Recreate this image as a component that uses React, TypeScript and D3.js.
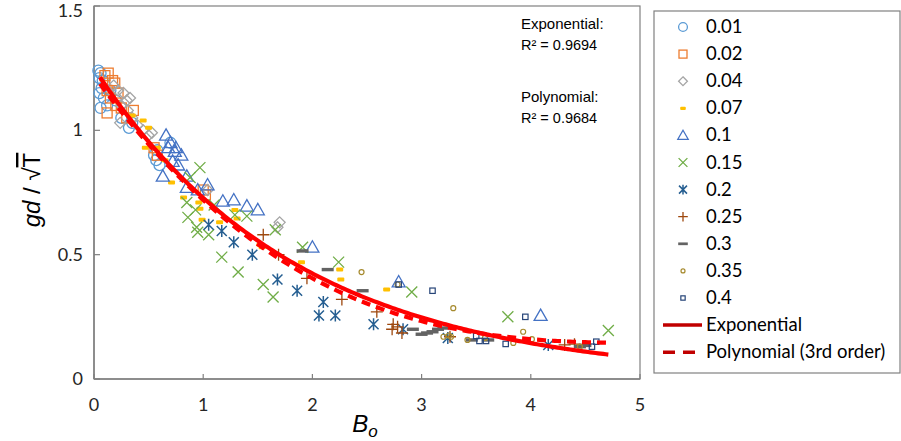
import React from "react";
import * as d3 from "d3";

type P = [number, number];

const seriesNames = ["0.01", "0.02", "0.04", "0.07", "0.1", "0.15", "0.2", "0.25", "0.3", "0.35", "0.4"];

const s001: P[] = [[0.04,1.24],[0.06,1.23],[0.05,1.21],[0.08,1.2],[0.07,1.17],[0.05,1.15],[0.09,1.13],[0.06,1.09],[0.12,1.1],[0.15,1.16],[0.25,1.05],[0.32,1.01],[0.35,1.03],[0.55,0.9],[0.57,0.88],[0.6,0.86],[0.58,0.92],[0.7,0.95],[0.2,1.12]];
const s002: P[] = [[0.1,1.22],[0.13,1.23],[0.17,1.2],[0.19,1.19],[0.12,1.16],[0.15,1.13],[0.22,1.15],[0.12,1.07],[0.25,1.09],[0.3,1.05],[0.36,1.08],[0.55,0.93],[0.58,0.9],[1.0,0.76],[1.02,0.74],[0.2,1.1]];
const s004: P[] = [[0.18,1.18],[0.22,1.16],[0.27,1.15],[0.3,1.12],[0.25,1.1],[0.31,1.08],[0.24,1.03],[0.35,1.05],[0.4,1.02],[0.45,1.0],[0.5,0.98],[0.53,0.99],[0.33,1.13],[1.04,0.76],[1.68,0.61],[1.7,0.63]];
const s007: P[] = [[0.45,1.04],[0.5,1.01],[0.47,0.93],[0.58,0.93],[0.65,0.88],[0.71,0.79],[0.82,0.73],[0.96,0.71],[0.97,0.685],[0.99,0.64],[1.15,0.63],[1.29,0.68],[1.31,0.645],[1.52,0.54],[1.54,0.53],[1.9,0.47],[2.25,0.44],[2.26,0.4],[2.68,0.36],[0.35,1.06]];
const s01: P[] = [[0.66,0.98],[0.7,0.95],[0.68,0.93],[0.75,0.93],[0.72,0.875],[0.74,0.915],[0.77,0.86],[0.63,0.815],[0.85,0.815],[0.85,0.77],[1.04,0.78],[1.18,0.715],[1.28,0.72],[1.4,0.695],[1.5,0.68],[2.0,0.53],[2.79,0.39],[4.09,0.255],[0.8,0.9],[0.95,0.76]];
const s015: P[] = [[0.97,0.85],[0.88,0.81],[0.85,0.71],[0.93,0.68],[0.86,0.65],[0.94,0.61],[0.95,0.59],[1.05,0.58],[1.4,0.655],[1.29,0.66],[1.66,0.6],[1.17,0.49],[1.32,0.43],[1.55,0.38],[1.64,0.33],[1.91,0.53],[2.24,0.47],[2.91,0.35],[3.79,0.25],[4.71,0.195],[1.1,0.7]];
const s02: P[] = [[1.17,0.595],[1.28,0.55],[1.45,0.5],[1.68,0.4],[1.86,0.355],[2.1,0.31],[2.06,0.255],[2.21,0.255],[2.56,0.22],[2.83,0.2],[3.24,0.165],[4.16,0.137],[1.05,0.62]];
const s025: P[] = [[1.55,0.58],[1.69,0.5],[1.95,0.405],[2.27,0.32],[2.59,0.27],[2.74,0.22],[2.73,0.2],[2.78,0.21],[2.82,0.185],[3.26,0.17],[4.31,0.137],[4.4,0.14]];
const s03: P[] = [[1.91,0.515],[2.14,0.44],[2.46,0.355],[2.92,0.2],[3.0,0.18],[3.05,0.185],[3.1,0.19],[3.15,0.2],[3.2,0.205],[3.46,0.157],[3.61,0.157],[4.45,0.13],[4.5,0.135]];
const s035: P[] = [[2.45,0.43],[2.78,0.38],[3.29,0.285],[3.2,0.17],[3.27,0.17],[3.42,0.157],[3.58,0.165],[3.93,0.19],[4.01,0.16],[3.84,0.145],[4.45,0.13],[3.25,0.175]];
const s04: P[] = [[2.79,0.38],[3.1,0.355],[3.5,0.173],[3.53,0.153],[3.59,0.153],[3.77,0.141],[3.95,0.25],[4.56,0.13],[4.6,0.15]];

const seriesData: P[][] = [s001, s002, s004, s007, s01, s015, s02, s025, s03, s035, s04];
const seriesColors = ["#5B9BD5", "#ED7D31", "#A5A5A5", "#FFC000", "#4472C4", "#70AD47", "#255E91", "#9E480E", "#636363", "#A68A2E", "#264478"];
const seriesShapes = ["circle", "square", "diamond", "ydash", "triangle", "x", "star", "plus", "gdash", "smallcircle", "smallsquare"];

const xTicks = [0, 1, 2, 3, 4, 5];
const yTicks = [0, 0.5, 1, 1.5];
const yTickLabels = ["0", "0.5", "1", "1.5"];

// trendlines
const expA = 1.25;
const expB = 0.54;
const polyCoef = [1.22, -0.6067, 0.11375, -0.00708];
const fitRange = [0.055, 4.71];

const W = 901, H = 441;
const x = d3.scaleLinear().domain([0, 5]).range([94, 640]);
const y = d3.scaleLinear().domain([0, 1.5]).range([379, 6]);

function Marker({ shape, color, cx, cy, s = 1 }: { shape: string; color: string; cx: number; cy: number; s?: number }) {
  const sw = 1.3;
  switch (shape) {
    case "circle":
      return <circle cx={cx} cy={cy} r={5.5 * s} fill="none" stroke={color} strokeWidth={sw} />;
    case "square":
      return <rect x={cx - 5 * s} y={cy - 5 * s} width={10 * s} height={10 * s} fill="none" stroke={color} strokeWidth={sw} />;
    case "diamond": {
      const r = 5.5 * s;
      return <path d={`M${cx},${cy - r}L${cx + r},${cy}L${cx},${cy + r}L${cx - r},${cy}Z`} fill="none" stroke={color} strokeWidth={sw} />;
    }
    case "ydash":
      return <rect x={cx - 3.5 * s} y={cy - 2 * s} width={7 * s} height={4 * s} rx={1} fill={color} stroke="none" />;
    case "triangle": {
      const r = 6.5 * s;
      return <path d={`M${cx},${cy - r}L${cx + r},${cy + r * 0.75}L${cx - r},${cy + r * 0.75}Z`} fill="none" stroke={color} strokeWidth={sw} />;
    }
    case "x": {
      const r = 5.5 * s;
      return <path d={`M${cx - r},${cy - r}L${cx + r},${cy + r}M${cx - r},${cy + r}L${cx + r},${cy - r}`} stroke={color} strokeWidth={sw} />;
    }
    case "star": {
      const r = 5 * s;
      return <path d={`M${cx - r},${cy - r}L${cx + r},${cy + r}M${cx - r},${cy + r}L${cx + r},${cy - r}M${cx},${cy - r * 1.2}L${cx},${cy + r * 1.2}`} stroke={color} strokeWidth={1.5} />;
    }
    case "plus": {
      const r = 6 * s;
      return <path d={`M${cx - r},${cy}L${cx + r},${cy}M${cx},${cy - r}L${cx},${cy + r}`} stroke={color} strokeWidth={sw} />;
    }
    case "gdash":
      return <rect x={cx - 6 * s} y={cy - 1.7 * s} width={12 * s} height={3.4 * s} fill={color} stroke="none" />;
    case "smallcircle":
      return <circle cx={cx} cy={cy} r={2.5 * s} fill="none" stroke={color} strokeWidth={1.2} />;
    case "smallsquare":
      return <rect x={cx - 2.7 * s} y={cy - 2.7 * s} width={5.4 * s} height={5.4 * s} fill="none" stroke={color} strokeWidth={1.2} />;
  }
  return null;
}

export default function App() {
  const xs = d3.range(fitRange[0], fitRange[1] + 0.0001, (fitRange[1] - fitRange[0]) / 200);
  const expPath = d3.line<number>().x((v) => x(v)).y((v) => y(expA * Math.exp(-expB * v)))(xs) || "";
  const polyPath = d3.line<number>().x((v) => x(v)).y((v) => y(polyCoef[0] + polyCoef[1] * v + polyCoef[2] * v * v + polyCoef[3] * v * v * v))(xs) || "";
  const font = "Lato, 'Open Sans', sans-serif";
  const legY0 = 27, legStep = 27.1;
  return (
    <svg width={W} height={H} style={{ position: "absolute", left: 0, top: 0, background: "#fff" }}>
      <rect x={0} y={0} width={W} height={H} fill="#fff" />
      {/* plot border */}
      <rect x={94} y={6} width={546} height={373} fill="none" stroke="#808080" strokeWidth={1.2} />
      {/* axes */}
      <line x1={94} y1={379} x2={640} y2={379} stroke="#808080" strokeWidth={1.5} />
      <line x1={94} y1={6} x2={94} y2={379} stroke="#808080" strokeWidth={1.5} />
      {xTicks.map((t) => (
        <g key={"xt" + t}>
          <line x1={x(t)} x2={x(t)} y1={379} y2={374} stroke="#808080" strokeWidth={1.2} />
          <text x={x(t)} y={411} textAnchor="middle" fontFamily={font} fontSize={18} fill="#262626">{t}</text>
        </g>
      ))}
      {yTicks.map((t, i) => (
        <g key={"yt" + t}>
          <line x1={94} x2={100} y1={y(t)} y2={y(t)} stroke="#808080" strokeWidth={1.2} />
          <text x={83} y={Math.max(y(t) + 6, 17)} textAnchor="end" fontFamily={font} fontSize={18} fill="#262626">{yTickLabels[i]}</text>
        </g>
      ))}
      {/* axis titles */}
      <text x={365} y={432} textAnchor="middle" fontFamily="'Liberation Sans', Arial, sans-serif" fontSize={24} fill="#000">
        <tspan fontStyle="italic">B</tspan>
        <tspan fontStyle="italic" fontSize={17} dy={5}>o</tspan>
      </text>
      <g transform="translate(40,190) rotate(-90)">
        <text x={0} y={0} textAnchor="middle" fontFamily="'Liberation Sans', Arial, sans-serif" fontSize={24} fill="#000">
          <tspan fontStyle="italic">gd</tspan>
          <tspan> / √</tspan>
          <tspan style={{ textDecoration: "overline" }}>T</tspan>
        </text>
      </g>
      {/* data */}
      {seriesData.map((pts, si) => (
        <g key={"s" + si}>
          {pts.map((p, j) => (
            <Marker key={j} shape={seriesShapes[si]} color={seriesColors[si]} cx={x(p[0])} cy={y(p[1])} />
          ))}
        </g>
      ))}
      {/* trendlines */}
      <path d={polyPath} fill="none" stroke="#FF0000" strokeWidth={4.2} strokeDasharray="9,6" />
      <path d={expPath} fill="none" stroke="#FF0000" strokeWidth={4.2} />
      {/* annotation */}
      <g fontFamily="'Liberation Sans', Arial, sans-serif" fill="#000">
        <text x={521} y={29} fontSize={15}>Exponential:</text>
        <text x={521} y={50} fontSize={14.5}>R² = 0.9694</text>
        <text x={521} y={102} fontSize={15}>Polynomial:</text>
        <text x={521} y={123} fontSize={14.5}>R² = 0.9684</text>
      </g>
      {/* legend */}
      <rect x={654} y={11} width={246} height={362} fill="#fff" stroke="#808080" strokeWidth={1.2} />
      {seriesNames.map((n, i) => (
        <g key={"l" + i}>
          <Marker shape={seriesShapes[i]} color={seriesColors[i]} cx={683} cy={legY0 + i * legStep} s={0.8} />
          <text x={706} y={legY0 + i * legStep + 6} fontFamily={font} fontSize={18.5} fill="#000">{n}</text>
        </g>
      ))}
      <line x1={663} x2={702} y1={legY0 + 11 * legStep} y2={legY0 + 11 * legStep} stroke="#C00000" strokeWidth={3.5} />
      <text x={706} y={legY0 + 11 * legStep + 6} fontFamily={font} fontSize={18.5} fill="#000">Exponential</text>
      <line x1={663} x2={702} y1={legY0 + 12 * legStep} y2={legY0 + 12 * legStep} stroke="#C00000" strokeWidth={3.5} strokeDasharray="12,8" />
      <text x={706} y={legY0 + 12 * legStep + 6} fontFamily={font} fontSize={18.5} fill="#000">Polynomial (3rd order)</text>
    </svg>
  );
}
